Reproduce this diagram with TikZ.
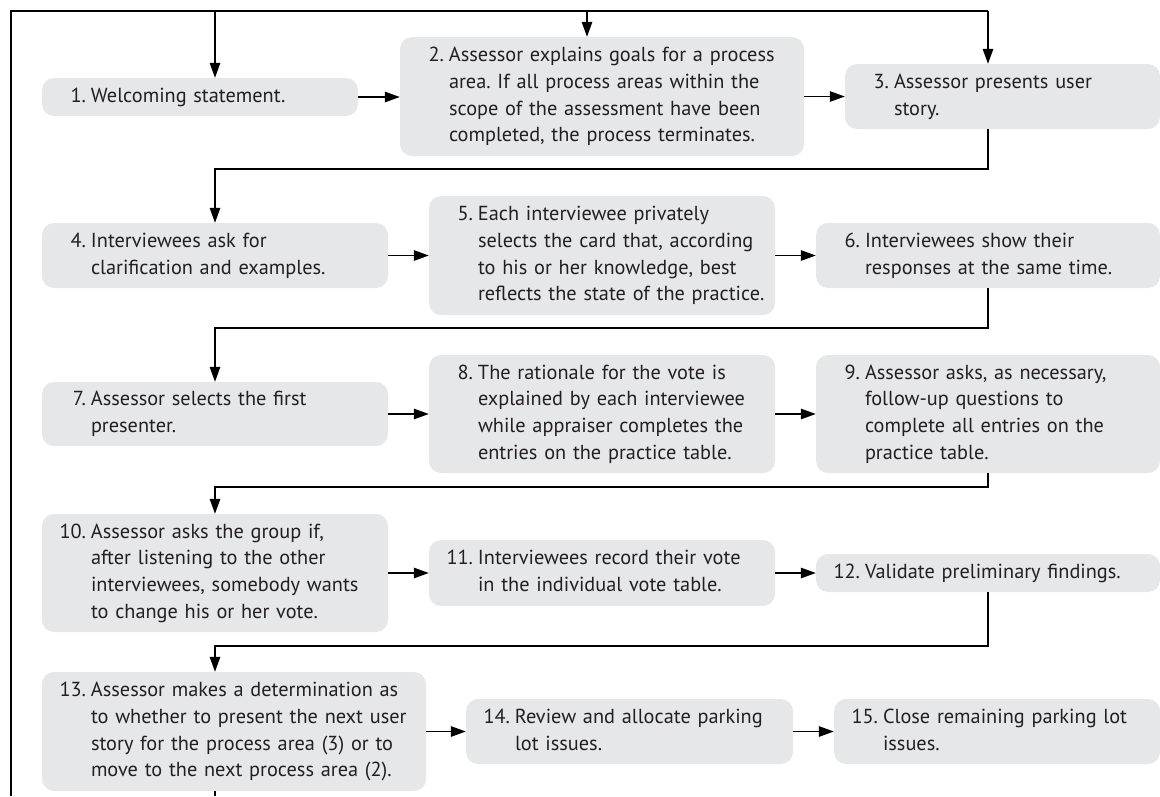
\documentclass[tikz,border=0pt]{standalone}
\usepackage{fontspec}
\setmainfont{PT Sans}
\usetikzlibrary{arrows.meta}
\frenchspacing

\definecolor{boxgray}{HTML}{E6E7E8}
\definecolor{inkgray}{HTML}{231F20}

% number column, then the lines of a step
\newcommand{\steptext}[2]{\mbox{\makebox[26pt][r]{#1}\hspace{5pt}\begin{tabular}[t]{@{}l@{}}#2\end{tabular}}}

\begin{document}
\begin{tikzpicture}[x=1pt,y=-1pt]
\tikzstyle{stepbox}=[fill=boxgray, rounded corners=12pt, inner xsep=18pt, inner ysep=0pt,
align=left, text=inkgray, font=\fontsize{20.3pt}{26.7pt}\selectfont]
\tikzstyle{link}=[line width=1.3pt]
\tikzstyle{arr}=[link, -{Triangle[length=15pt,width=10.5pt]}]
\useasboundingbox (0,0) rectangle (1160,796);

% first row
\node[stepbox, text width=280pt, minimum height=38pt] (b1) at (200,97)
{\steptext{1.}{Welcoming statement.}};
\node[stepbox, text width=368pt, minimum height=119pt] (b2) at (602,96.5)
{\steptext{2.}{Assessor explains goals for a process\\area. If all process areas within the\\scope of the assessment have been\\completed, the process terminates.}};
\node[stepbox, text width=279pt, minimum height=65pt] (b3) at (1002.5,96.5)
{\steptext{3.}{Assessor presents user\\story.}};

% second row
\node[stepbox, text width=310pt, minimum height=65pt] (b4) at (215,255.5)
{\steptext{4.}{Interviewees ask for\\clarification and examples.}};
\node[stepbox, text width=310pt, minimum height=119pt] (b5) at (602,255.5)
{\steptext{5.}{Each interviewee privately\\selects the card that, according\\to his or her knowledge, best\\reflects the state of the practice.}};
\node[stepbox, text width=308pt, minimum height=65pt] (b6) at (988,255.5)
{\steptext{6.}{Interviewees show their\\responses at the same time.}};

% third row
\node[stepbox, text width=310pt, minimum height=64pt] (b7) at (215,414)
{\steptext{7.}{Assessor selects the first\\presenter.}};
\node[stepbox, text width=310pt, minimum height=118pt] (b8) at (602,414)
{\steptext{8.}{The rationale for the vote is\\explained by each interviewee\\while appraiser completes the\\entries on the practice table.}};
\node[stepbox, text width=308pt, minimum height=118pt] (b9) at (988,414)
{\steptext{9.}{Assessor asks, as necessary,\\follow-up questions to\\complete all entries on the\\practice table.}};

% fourth row
\node[stepbox, text width=310pt, minimum height=118pt] (b10) at (215,573)
{\steptext{10.}{Assessor asks the group if,\\after listening to the other\\interviewees, somebody wants\\to change his or her vote.}};
\node[stepbox, text width=310pt, minimum height=66pt] (b11) at (602,573)
{\steptext{11.}{Interviewees record their vote\\in the individual vote table.}};
\node[stepbox, text width=308pt, minimum height=38pt] (b12) at (988,573)
{\steptext{12.}{Validate preliminary findings.}};

% fifth row
\node[stepbox, text width=348pt, minimum height=119pt] (b13) at (234,731.5)
{\steptext{13.}{Assessor makes a determination as\\to whether to present the next user\\story for the process area (3) or to\\move to the next process area (2).}};
\node[stepbox, text width=291pt, minimum height=65pt] (b14) at (629.5,731.5)
{\steptext{14.}{Review and allocate parking\\lot issues.}};
\node[stepbox, text width=290pt, minimum height=65pt] (b15) at (997,731.5)
{\steptext{15.}{Close remaining parking lot\\issues.}};

% frame and drops from the top
\coordinate (tl) at (11,11);
\coordinate (bl) at (11,796);
\coordinate (c1) at (215,11);
\coordinate (c2) at (587,11);
\coordinate (c3) at (988,11);
\draw[link] (bl) -- (tl) -- (c3);
\draw[arr] (c1) -- (c1 |- b1.north);
\draw[arr] (c2) -- (c2 |- b2.north);
\draw[arr] (c3) -- (c3 |- b3.north);

% steps in a row
\draw[arr] (b1.east) -- (b1.east -| b2.west);
\draw[arr] (b2.east) -- (b2.east -| b3.west);
\draw[arr] (b4.east) -- (b4.east -| b5.west);
\draw[arr] (b5.east) -- (b5.east -| b6.west);
\draw[arr] (b7.east) -- (b7.east -| b8.west);
\draw[arr] (b8.east) -- (b8.east -| b9.west);
\draw[arr] (b10.east) -- (b10.east -| b11.west);
\draw[arr] (b11.east) -- (b11.east -| b12.west);
\draw[arr] (b13.east) -- (b13.east -| b14.west);
\draw[arr] (b14.east) -- (b14.east -| b15.west);

% back to the left at the end of a row
\coordinate (r1) at (988,169);
\coordinate (r2) at (988,328);
\coordinate (r3) at (988,487);
\coordinate (r4) at (988,646);
\draw[arr] (r1 |- b3.south) -- (r1) -- (r1 -| c1) -- (c1 |- b4.north);
\draw[arr] (b6.south) -- (r2) -- (r2 -| c1) -- (c1 |- b7.north);
\draw[arr] (b9.south) -- (r3) -- (r3 -| c1) -- (c1 |- b10.north);
\draw[arr] (b12.south) -- (r4) -- (r4 -| c1) -- (c1 |- b13.north);
\draw[link] (c1 |- b13.south) -- (c1 |- bl);
\end{tikzpicture}
\end{document}
